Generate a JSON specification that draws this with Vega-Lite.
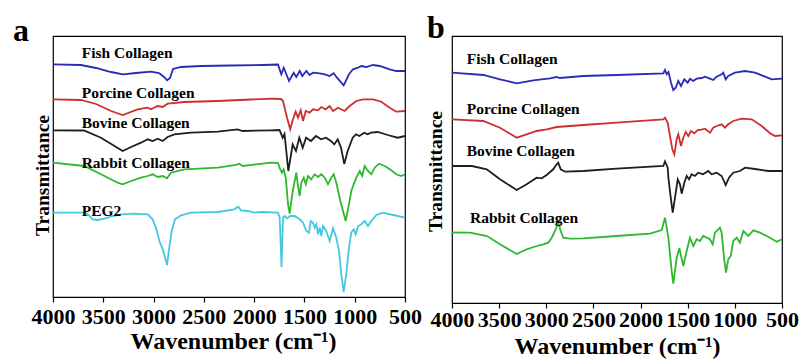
{
"$schema":"https://vega.github.io/schema/vega-lite/v6.json",
"background":"white",
"padding":{"left":12,"top":11,"right":0,"bottom":0},
"spacing":1,
"config":{"view":{"stroke":"#000","strokeWidth":1.2},"font":"Liberation Serif",
 "axis":{"labelFont":"Liberation Serif","titleFont":"Liberation Serif","labelFontWeight":"bold","titleFontWeight":"bold","labelColor":"#000","titleColor":"#000","tickColor":"#000","domainColor":"#000","grid":false}},
"datasets":{
"a":[
{"s":"Fish","w":4000,"t":232.7},{"s":"Fish","w":3722,"t":232},{"s":"Fish","w":3572,"t":229},{"s":"Fish","w":3423,"t":225},{"s":"Fish","w":3304,"t":222.7},{"s":"Fish","w":3175,"t":224},{"s":"Fish","w":3026,"t":225.3},{"s":"Fish","w":2946,"t":224},{"s":"Fish","w":2896,"t":220},{"s":"Fish","w":2866,"t":216.7},{"s":"Fish","w":2836,"t":219},{"s":"Fish","w":2807,"t":228},{"s":"Fish","w":2727,"t":230},{"s":"Fish","w":2528,"t":231},{"s":"Fish","w":2230,"t":231.5},{"s":"Fish","w":1912,"t":232},{"s":"Fish","w":1763,"t":232.5},{"s":"Fish","w":1730,"t":222.7},{"s":"Fish","w":1706,"t":229.3},{"s":"Fish","w":1653,"t":216},{"s":"Fish","w":1607,"t":224.3},{"s":"Fish","w":1581,"t":220},{"s":"Fish","w":1547,"t":226},{"s":"Fish","w":1521,"t":221},{"s":"Fish","w":1481,"t":226},{"s":"Fish","w":1448,"t":222},{"s":"Fish","w":1415,"t":224.3},{"s":"Fish","w":1348,"t":223.7},{"s":"Fish","w":1299,"t":222.7},{"s":"Fish","w":1249,"t":221},{"s":"Fish","w":1209,"t":223.7},{"s":"Fish","w":1176,"t":219.3},{"s":"Fish","w":1110,"t":211.7},{"s":"Fish","w":1057,"t":222.7},{"s":"Fish","w":1017,"t":227.7},{"s":"Fish","w":967,"t":229.3},{"s":"Fish","w":935,"t":231},{"s":"Fish","w":885,"t":230},{"s":"Fish","w":818,"t":232},{"s":"Fish","w":752,"t":231},{"s":"Fish","w":652,"t":227.7},{"s":"Fish","w":587,"t":226},{"s":"Fish","w":500,"t":226},
{"s":"Porcine","w":4000,"t":197.7},{"s":"Porcine","w":3722,"t":197},{"s":"Porcine","w":3572,"t":193},{"s":"Porcine","w":3423,"t":186},{"s":"Porcine","w":3307,"t":182},{"s":"Porcine","w":3158,"t":187.7},{"s":"Porcine","w":3058,"t":189.3},{"s":"Porcine","w":3026,"t":187.7},{"s":"Porcine","w":2959,"t":191},{"s":"Porcine","w":2909,"t":190},{"s":"Porcine","w":2860,"t":193.3},{"s":"Porcine","w":2694,"t":195},{"s":"Porcine","w":2362,"t":196},{"s":"Porcine","w":2031,"t":197.5},{"s":"Porcine","w":1832,"t":198.3},{"s":"Porcine","w":1733,"t":198},{"s":"Porcine","w":1713,"t":196},{"s":"Porcine","w":1673,"t":179.3},{"s":"Porcine","w":1641,"t":167.7},{"s":"Porcine","w":1614,"t":177.7},{"s":"Porcine","w":1587,"t":185.3},{"s":"Porcine","w":1564,"t":179.3},{"s":"Porcine","w":1537,"t":186.7},{"s":"Porcine","w":1514,"t":176},{"s":"Porcine","w":1487,"t":186},{"s":"Porcine","w":1448,"t":184.3},{"s":"Porcine","w":1415,"t":187.7},{"s":"Porcine","w":1365,"t":186.7},{"s":"Porcine","w":1332,"t":190},{"s":"Porcine","w":1289,"t":187.7},{"s":"Porcine","w":1249,"t":191},{"s":"Porcine","w":1216,"t":186},{"s":"Porcine","w":1166,"t":189.3},{"s":"Porcine","w":1100,"t":186},{"s":"Porcine","w":1050,"t":191},{"s":"Porcine","w":984,"t":196},{"s":"Porcine","w":918,"t":197.7},{"s":"Porcine","w":818,"t":197.7},{"s":"Porcine","w":736,"t":195.3},{"s":"Porcine","w":652,"t":189.3},{"s":"Porcine","w":587,"t":185.3},{"s":"Porcine","w":500,"t":186},
{"s":"Bovine","w":4000,"t":166.7},{"s":"Bovine","w":3692,"t":166.5},{"s":"Bovine","w":3523,"t":159.3},{"s":"Bovine","w":3307,"t":146},{"s":"Bovine","w":3224,"t":150},{"s":"Bovine","w":3125,"t":154.3},{"s":"Bovine","w":3058,"t":157.7},{"s":"Bovine","w":3009,"t":156},{"s":"Bovine","w":2959,"t":158.3},{"s":"Bovine","w":2909,"t":156},{"s":"Bovine","w":2860,"t":160},{"s":"Bovine","w":2794,"t":162.7},{"s":"Bovine","w":2628,"t":164.3},{"s":"Bovine","w":2362,"t":165.3},{"s":"Bovine","w":2164,"t":167.7},{"s":"Bovine","w":2114,"t":166},{"s":"Bovine","w":1832,"t":166.7},{"s":"Bovine","w":1748,"t":167},{"s":"Bovine","w":1716,"t":159.3},{"s":"Bovine","w":1698,"t":163},{"s":"Bovine","w":1660,"t":126},{"s":"Bovine","w":1617,"t":152.7},{"s":"Bovine","w":1584,"t":146},{"s":"Bovine","w":1551,"t":159.3},{"s":"Bovine","w":1517,"t":149.3},{"s":"Bovine","w":1484,"t":159.3},{"s":"Bovine","w":1435,"t":156},{"s":"Bovine","w":1385,"t":161},{"s":"Bovine","w":1335,"t":157.7},{"s":"Bovine","w":1286,"t":159.3},{"s":"Bovine","w":1236,"t":156},{"s":"Bovine","w":1203,"t":152.7},{"s":"Bovine","w":1169,"t":157.7},{"s":"Bovine","w":1136,"t":149.3},{"s":"Bovine","w":1104,"t":133},{"s":"Bovine","w":1070,"t":146},{"s":"Bovine","w":1020,"t":159.3},{"s":"Bovine","w":987,"t":162.7},{"s":"Bovine","w":954,"t":161},{"s":"Bovine","w":905,"t":164.3},{"s":"Bovine","w":871,"t":162.7},{"s":"Bovine","w":838,"t":164.3},{"s":"Bovine","w":771,"t":165},{"s":"Bovine","w":672,"t":162},{"s":"Bovine","w":573,"t":159.3},{"s":"Bovine","w":500,"t":161},
{"s":"Rabbit","w":4000,"t":134.3},{"s":"Rabbit","w":3689,"t":131},{"s":"Rabbit","w":3523,"t":122.7},{"s":"Rabbit","w":3357,"t":114.3},{"s":"Rabbit","w":3307,"t":112.7},{"s":"Rabbit","w":3224,"t":116},{"s":"Rabbit","w":3125,"t":119.3},{"s":"Rabbit","w":3058,"t":121},{"s":"Rabbit","w":3009,"t":122.7},{"s":"Rabbit","w":2959,"t":120},{"s":"Rabbit","w":2909,"t":121},{"s":"Rabbit","w":2867,"t":118.7},{"s":"Rabbit","w":2827,"t":124.3},{"s":"Rabbit","w":2694,"t":127.7},{"s":"Rabbit","w":2362,"t":129.3},{"s":"Rabbit","w":2180,"t":132},{"s":"Rabbit","w":2148,"t":133.3},{"s":"Rabbit","w":2114,"t":131},{"s":"Rabbit","w":1832,"t":134.3},{"s":"Rabbit","w":1763,"t":134},{"s":"Rabbit","w":1740,"t":127.7},{"s":"Rabbit","w":1723,"t":124.3},{"s":"Rabbit","w":1706,"t":127.7},{"s":"Rabbit","w":1686,"t":119.3},{"s":"Rabbit","w":1663,"t":92.7},{"s":"Rabbit","w":1647,"t":83.3},{"s":"Rabbit","w":1621,"t":102.7},{"s":"Rabbit","w":1597,"t":116},{"s":"Rabbit","w":1581,"t":124.3},{"s":"Rabbit","w":1564,"t":111},{"s":"Rabbit","w":1547,"t":101},{"s":"Rabbit","w":1531,"t":114.3},{"s":"Rabbit","w":1507,"t":119.3},{"s":"Rabbit","w":1487,"t":112.7},{"s":"Rabbit","w":1465,"t":121},{"s":"Rabbit","w":1432,"t":117.7},{"s":"Rabbit","w":1398,"t":122.7},{"s":"Rabbit","w":1365,"t":120},{"s":"Rabbit","w":1332,"t":122.7},{"s":"Rabbit","w":1298,"t":119.3},{"s":"Rabbit","w":1266,"t":112.7},{"s":"Rabbit","w":1233,"t":119.3},{"s":"Rabbit","w":1209,"t":122.7},{"s":"Rabbit","w":1183,"t":114.3},{"s":"Rabbit","w":1143,"t":96},{"s":"Rabbit","w":1090,"t":76},{"s":"Rabbit","w":1057,"t":92.7},{"s":"Rabbit","w":1034,"t":106},{"s":"Rabbit","w":1010,"t":112.7},{"s":"Rabbit","w":984,"t":119.3},{"s":"Rabbit","w":950,"t":126},{"s":"Rabbit","w":925,"t":121},{"s":"Rabbit","w":901,"t":131},{"s":"Rabbit","w":868,"t":126},{"s":"Rabbit","w":835,"t":122.7},{"s":"Rabbit","w":801,"t":129.3},{"s":"Rabbit","w":759,"t":133.3},{"s":"Rabbit","w":702,"t":131},{"s":"Rabbit","w":636,"t":126.7},{"s":"Rabbit","w":587,"t":122.7},{"s":"Rabbit","w":537,"t":121},{"s":"Rabbit","w":500,"t":122.7},
{"s":"PEG2","w":4000,"t":84.3},{"s":"PEG2","w":3689,"t":84.3},{"s":"PEG2","w":3655,"t":82.7},{"s":"PEG2","w":3605,"t":77.7},{"s":"PEG2","w":3556,"t":77},{"s":"PEG2","w":3490,"t":78.3},{"s":"PEG2","w":3406,"t":81},{"s":"PEG2","w":3324,"t":82.7},{"s":"PEG2","w":3192,"t":83.3},{"s":"PEG2","w":3058,"t":82.7},{"s":"PEG2","w":3009,"t":77.7},{"s":"PEG2","w":2966,"t":66},{"s":"PEG2","w":2943,"t":56},{"s":"PEG2","w":2909,"t":47.7},{"s":"PEG2","w":2866,"t":32},{"s":"PEG2","w":2844,"t":49.3},{"s":"PEG2","w":2820,"t":66},{"s":"PEG2","w":2787,"t":77.7},{"s":"PEG2","w":2727,"t":81.7},{"s":"PEG2","w":2628,"t":84.3},{"s":"PEG2","w":2362,"t":85},{"s":"PEG2","w":2197,"t":87.7},{"s":"PEG2","w":2158,"t":90.3},{"s":"PEG2","w":2131,"t":86.7},{"s":"PEG2","w":2064,"t":86},{"s":"PEG2","w":1998,"t":84.3},{"s":"PEG2","w":1932,"t":85},{"s":"PEG2","w":1763,"t":84.3},{"s":"PEG2","w":1746,"t":79.3},{"s":"PEG2","w":1728,"t":30},{"s":"PEG2","w":1713,"t":79.3},{"s":"PEG2","w":1696,"t":81},{"s":"PEG2","w":1673,"t":78.7},{"s":"PEG2","w":1641,"t":81},{"s":"PEG2","w":1597,"t":81},{"s":"PEG2","w":1547,"t":77.7},{"s":"PEG2","w":1514,"t":74.3},{"s":"PEG2","w":1481,"t":66},{"s":"PEG2","w":1455,"t":64.3},{"s":"PEG2","w":1438,"t":76},{"s":"PEG2","w":1415,"t":74.3},{"s":"PEG2","w":1398,"t":69.3},{"s":"PEG2","w":1382,"t":72.7},{"s":"PEG2","w":1365,"t":62.7},{"s":"PEG2","w":1348,"t":69.3},{"s":"PEG2","w":1332,"t":61},{"s":"PEG2","w":1315,"t":71},{"s":"PEG2","w":1283,"t":66},{"s":"PEG2","w":1249,"t":56},{"s":"PEG2","w":1216,"t":68.7},{"s":"PEG2","w":1183,"t":59.3},{"s":"PEG2","w":1156,"t":46},{"s":"PEG2","w":1133,"t":22.7},{"s":"PEG2","w":1110,"t":5},{"s":"PEG2","w":1084,"t":22.7},{"s":"PEG2","w":1057,"t":49.3},{"s":"PEG2","w":1034,"t":64.3},{"s":"PEG2","w":1010,"t":67.7},{"s":"PEG2","w":990,"t":62.7},{"s":"PEG2","w":967,"t":71},{"s":"PEG2","w":935,"t":72.7},{"s":"PEG2","w":901,"t":76},{"s":"PEG2","w":868,"t":71},{"s":"PEG2","w":835,"t":76},{"s":"PEG2","w":785,"t":82},{"s":"PEG2","w":719,"t":84.3},{"s":"PEG2","w":619,"t":82},{"s":"PEG2","w":500,"t":79.3}
],
"b":[
{"s":"Fish","w":4000,"t":230.3},{"s":"Fish","w":3668,"t":228},{"s":"Fish","w":3491,"t":223.7},{"s":"Fish","w":3314,"t":219.7},{"s":"Fish","w":3138,"t":222.7},{"s":"Fish","w":2961,"t":224.7},{"s":"Fish","w":2890,"t":226},{"s":"Fish","w":2855,"t":225},{"s":"Fish","w":2607,"t":227},{"s":"Fish","w":2253,"t":228},{"s":"Fish","w":1759,"t":229.7},{"s":"Fish","w":1741,"t":233},{"s":"Fish","w":1723,"t":228.7},{"s":"Fish","w":1704,"t":231},{"s":"Fish","w":1677,"t":220.3},{"s":"Fish","w":1653,"t":213},{"s":"Fish","w":1627,"t":215.3},{"s":"Fish","w":1600,"t":222},{"s":"Fish","w":1571,"t":217},{"s":"Fish","w":1536,"t":223.7},{"s":"Fish","w":1500,"t":220.3},{"s":"Fish","w":1476,"t":224.3},{"s":"Fish","w":1441,"t":222},{"s":"Fish","w":1405,"t":224.3},{"s":"Fish","w":1352,"t":225},{"s":"Fish","w":1317,"t":226.3},{"s":"Fish","w":1264,"t":224.3},{"s":"Fish","w":1229,"t":223},{"s":"Fish","w":1193,"t":226.3},{"s":"Fish","w":1140,"t":228.7},{"s":"Fish","w":1123,"t":230.3},{"s":"Fish","w":1097,"t":223.7},{"s":"Fish","w":1070,"t":227},{"s":"Fish","w":999,"t":230.3},{"s":"Fish","w":892,"t":232},{"s":"Fish","w":786,"t":230.3},{"s":"Fish","w":680,"t":226.3},{"s":"Fish","w":609,"t":223.7},{"s":"Fish","w":500,"t":224.3},
{"s":"Porcine","w":4000,"t":183.7},{"s":"Porcine","w":3668,"t":182},{"s":"Porcine","w":3491,"t":175.3},{"s":"Porcine","w":3314,"t":165.3},{"s":"Porcine","w":3208,"t":168.7},{"s":"Porcine","w":3102,"t":172},{"s":"Porcine","w":2996,"t":173.7},{"s":"Porcine","w":2890,"t":176},{"s":"Porcine","w":2607,"t":178},{"s":"Porcine","w":2253,"t":180.3},{"s":"Porcine","w":1759,"t":183.7},{"s":"Porcine","w":1741,"t":185.3},{"s":"Porcine","w":1712,"t":180.3},{"s":"Porcine","w":1688,"t":167},{"s":"Porcine","w":1663,"t":153.7},{"s":"Porcine","w":1642,"t":148.7},{"s":"Porcine","w":1617,"t":163.7},{"s":"Porcine","w":1600,"t":168.7},{"s":"Porcine","w":1571,"t":157},{"s":"Porcine","w":1547,"t":165.3},{"s":"Porcine","w":1521,"t":171},{"s":"Porcine","w":1494,"t":167},{"s":"Porcine","w":1465,"t":172},{"s":"Porcine","w":1430,"t":169.7},{"s":"Porcine","w":1394,"t":173},{"s":"Porcine","w":1352,"t":173.3},{"s":"Porcine","w":1317,"t":174.3},{"s":"Porcine","w":1264,"t":170.3},{"s":"Porcine","w":1229,"t":175.3},{"s":"Porcine","w":1193,"t":177},{"s":"Porcine","w":1140,"t":178.7},{"s":"Porcine","w":1105,"t":175.3},{"s":"Porcine","w":1070,"t":178.7},{"s":"Porcine","w":1017,"t":182},{"s":"Porcine","w":927,"t":184.3},{"s":"Porcine","w":821,"t":183.7},{"s":"Porcine","w":715,"t":177},{"s":"Porcine","w":627,"t":169.7},{"s":"Porcine","w":574,"t":167},{"s":"Porcine","w":500,"t":167.7},
{"s":"Bovine","w":4000,"t":137},{"s":"Bovine","w":3788,"t":137},{"s":"Bovine","w":3632,"t":133.7},{"s":"Bovine","w":3491,"t":123.7},{"s":"Bovine","w":3314,"t":113},{"s":"Bovine","w":3208,"t":118.7},{"s":"Bovine","w":3102,"t":125.3},{"s":"Bovine","w":3049,"t":124.7},{"s":"Bovine","w":2996,"t":128},{"s":"Bovine","w":2926,"t":133.7},{"s":"Bovine","w":2890,"t":138.7},{"s":"Bovine","w":2873,"t":140.3},{"s":"Bovine","w":2847,"t":133.7},{"s":"Bovine","w":2802,"t":131.3},{"s":"Bovine","w":2607,"t":132},{"s":"Bovine","w":2253,"t":134.3},{"s":"Bovine","w":1759,"t":137},{"s":"Bovine","w":1741,"t":141.5},{"s":"Bovine","w":1712,"t":135.3},{"s":"Bovine","w":1705,"t":125.3},{"s":"Bovine","w":1680,"t":105.3},{"s":"Bovine","w":1659,"t":90.3},{"s":"Bovine","w":1635,"t":105.3},{"s":"Bovine","w":1606,"t":123.7},{"s":"Bovine","w":1582,"t":118.7},{"s":"Bovine","w":1564,"t":109.3},{"s":"Bovine","w":1536,"t":120.3},{"s":"Bovine","w":1511,"t":127},{"s":"Bovine","w":1486,"t":123.7},{"s":"Bovine","w":1458,"t":128.7},{"s":"Bovine","w":1423,"t":127},{"s":"Bovine","w":1388,"t":130.3},{"s":"Bovine","w":1338,"t":128.7},{"s":"Bovine","w":1282,"t":132},{"s":"Bovine","w":1246,"t":128.7},{"s":"Bovine","w":1193,"t":130.3},{"s":"Bovine","w":1140,"t":127},{"s":"Bovine","w":1097,"t":118},{"s":"Bovine","w":1062,"t":125.3},{"s":"Bovine","w":1017,"t":130.3},{"s":"Bovine","w":946,"t":132},{"s":"Bovine","w":892,"t":135.3},{"s":"Bovine","w":786,"t":134},{"s":"Bovine","w":645,"t":132},{"s":"Bovine","w":500,"t":132},
{"s":"Rabbit","w":4000,"t":70.5},{"s":"Rabbit","w":3809,"t":70.3},{"s":"Rabbit","w":3629,"t":67},{"s":"Rabbit","w":3491,"t":58.7},{"s":"Rabbit","w":3314,"t":49},{"s":"Rabbit","w":3208,"t":53.7},{"s":"Rabbit","w":3102,"t":57},{"s":"Rabbit","w":3032,"t":58.7},{"s":"Rabbit","w":2979,"t":60.3},{"s":"Rabbit","w":2943,"t":65.3},{"s":"Rabbit","w":2908,"t":72},{"s":"Rabbit","w":2873,"t":80.3},{"s":"Rabbit","w":2847,"t":72},{"s":"Rabbit","w":2820,"t":65.3},{"s":"Rabbit","w":2749,"t":64.3},{"s":"Rabbit","w":2607,"t":64.7},{"s":"Rabbit","w":2253,"t":67},{"s":"Rabbit","w":1900,"t":69.3},{"s":"Rabbit","w":1776,"t":73},{"s":"Rabbit","w":1741,"t":85.3},{"s":"Rabbit","w":1705,"t":65.3},{"s":"Rabbit","w":1670,"t":32},{"s":"Rabbit","w":1653,"t":19.3},{"s":"Rabbit","w":1617,"t":45.3},{"s":"Rabbit","w":1589,"t":54.7},{"s":"Rabbit","w":1547,"t":37},{"s":"Rabbit","w":1511,"t":52},{"s":"Rabbit","w":1476,"t":65.3},{"s":"Rabbit","w":1441,"t":57},{"s":"Rabbit","w":1405,"t":63.7},{"s":"Rabbit","w":1370,"t":62},{"s":"Rabbit","w":1335,"t":67},{"s":"Rabbit","w":1264,"t":63.7},{"s":"Rabbit","w":1235,"t":58.7},{"s":"Rabbit","w":1211,"t":70.3},{"s":"Rabbit","w":1158,"t":75.3},{"s":"Rabbit","w":1140,"t":70.3},{"s":"Rabbit","w":1115,"t":45.3},{"s":"Rabbit","w":1094,"t":30.3},{"s":"Rabbit","w":1070,"t":43.7},{"s":"Rabbit","w":1044,"t":47},{"s":"Rabbit","w":1017,"t":62},{"s":"Rabbit","w":980,"t":65.3},{"s":"Rabbit","w":946,"t":60.3},{"s":"Rabbit","w":910,"t":72},{"s":"Rabbit","w":857,"t":67},{"s":"Rabbit","w":804,"t":72.7},{"s":"Rabbit","w":733,"t":70.3},{"s":"Rabbit","w":627,"t":65.3},{"s":"Rabbit","w":556,"t":61.3},{"s":"Rabbit","w":500,"t":63.7}
],
"la":[
{"label":"Fish Collagen","w":3715,"t":238.7},{"label":"Porcine Collagen","w":3715,"t":199.3},{"label":"Bovine Collagen","w":3715,"t":169.3},{"label":"Rabbit Collagen","w":3715,"t":129.3},{"label":"PEG2","w":3715,"t":81}
],
"lb":[
{"label":"Fish Collagen","w":3844,"t":238.7},{"label":"Porcine Collagen","w":3844,"t":188.7},{"label":"Bovine Collagen","w":3844,"t":147},{"label":"Rabbit Collagen","w":3809,"t":80.3}
]
},
"hconcat":[
{
 "width":352,"height":261,
 "title":{"text":"a","anchor":"start","frame":"group","dx":-40,"offset":-37,"baseline":"alphabetic","fontSize":32,"font":"Liberation Serif","fontWeight":"bold","color":"#000"},
 "layer":[
  {"data":{"name":"a"},"mark":{"type":"line","strokeWidth":1.8},
   "encoding":{
    "x":{"field":"w","type":"quantitative","scale":{"domain":[500,4000],"reverse":true,"nice":false,"zero":false},
     "axis":{"values":[4000,3750,3500,3250,3000,2750,2500,2250,2000,1750,1500,1250,1000,750,500],"format":"d","labelExpr":"datum.value % 500 === 0 ? datum.label : ''","tickSize":{"condition":{"test":"datum.value % 500 === 0","value":5},"value":3},"tickWidth":1.2,"domainWidth":1.2,"labelFontSize":22,"labelPadding":21,"labelBaseline":"alphabetic","labelFlush":false,"labelOverlap":false,"labelBound":false,"title":"Wavenumber (cm⁻¹)","titleFontSize":24,"titleX":180,"titleY":51,"titleBaseline":"alphabetic"}},
    "y":{"field":"t","type":"quantitative","scale":{"domain":[0,261],"nice":false,"zero":false},
     "axis":{"labels":false,"ticks":false,"domain":false,"title":"Transmittance","titleFontSize":19.5,"titleX":-5,"titleY":139,"titleBaseline":"alphabetic"}},
    "color":{"field":"s","type":"nominal","scale":{"domain":["Fish","Porcine","Bovine","Rabbit","PEG2"],"range":["#2a2ab6","#cf2e2e","#1e1e1e","#2fb82f","#45c8df"]},"legend":null}
   }},
  {"data":{"name":"la"},"mark":{"type":"text","align":"left","baseline":"alphabetic","font":"Liberation Serif","fontWeight":"bold","fontSize":15.5,"color":"#000"},
   "encoding":{"x":{"field":"w","type":"quantitative"},"y":{"field":"t","type":"quantitative"},"text":{"field":"label"}}}
 ]
},
{
 "width":330,"height":267,
 "title":{"text":"b","anchor":"start","frame":"group","dx":-25,"offset":-34,"baseline":"alphabetic","fontSize":32,"font":"Liberation Serif","fontWeight":"bold","color":"#000"},
 "layer":[
  {"data":{"name":"b"},"mark":{"type":"line","strokeWidth":1.8},
   "encoding":{
    "x":{"field":"w","type":"quantitative","scale":{"domain":[500,4000],"reverse":true,"nice":false,"zero":false},
     "axis":{"values":[4000,3750,3500,3250,3000,2750,2500,2250,2000,1750,1500,1250,1000,750,500],"format":"d","labelExpr":"datum.value % 500 === 0 ? datum.label : ''","tickSize":{"condition":{"test":"datum.value % 500 === 0","value":5},"value":3},"tickWidth":1.2,"domainWidth":1.2,"labelFontSize":22,"labelPadding":18,"labelBaseline":"alphabetic","labelFlush":false,"labelOverlap":false,"labelBound":false,"title":"Wavenumber (cm⁻¹)","titleFontSize":24,"titleX":165,"titleY":50,"titleBaseline":"alphabetic"}},
    "y":{"field":"t","type":"quantitative","scale":{"domain":[0,267],"nice":false,"zero":false},
     "axis":{"labels":false,"ticks":false,"domain":false,"title":"Transmittance","titleFontSize":19.5,"titleX":-11,"titleY":135,"titleBaseline":"alphabetic"}},
    "color":{"field":"s","type":"nominal","scale":{"domain":["Fish","Porcine","Bovine","Rabbit"],"range":["#2a2ab6","#cf2e2e","#1e1e1e","#2fb82f"]},"legend":null}
   }},
  {"data":{"name":"lb"},"mark":{"type":"text","align":"left","baseline":"alphabetic","font":"Liberation Serif","fontWeight":"bold","fontSize":15.5,"color":"#000"},
   "encoding":{"x":{"field":"w","type":"quantitative"},"y":{"field":"t","type":"quantitative"},"text":{"field":"label"}}}
 ]
}
]
}
